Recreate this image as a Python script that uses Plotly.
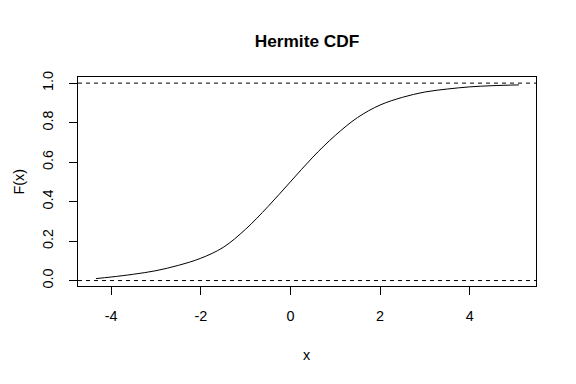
import plotly.graph_objects as go

x_vals = [-4.34, -4.0, -3.5, -3.0, -2.5, -2.0, -1.5, -1.0, -0.5, 0.0,
          0.5, 1.0, 1.5, 2.0, 2.5, 3.0, 3.5, 4.0, 4.5, 5.1]
cdf_vals = [0.010, 0.018, 0.032, 0.050, 0.077, 0.113, 0.168, 0.260, 0.375, 0.500,
            0.625, 0.735, 0.826, 0.889, 0.928, 0.955, 0.970, 0.981, 0.987, 0.991]
ref_levels = [0.0, 1.0]
x_ticks = [-4, -2, 0, 2, 4]
y_ticks = [0.0, 0.2, 0.4, 0.6, 0.8, 1.0]
y_tick_labels = ["0.0", "0.2", "0.4", "0.6", "0.8", "1.0"]

font = "Liberation Sans, Arial, Helvetica, sans-serif"
fs = 14.4

W, H = 568, 376
L, R, T, B = 70, 40, 69, 98
pw, ph = W - L - R, H - T - B

fig = go.Figure()
fig.add_trace(go.Scatter(x=x_vals, y=cdf_vals, mode="lines",
                         line=dict(color="black", width=1, shape="spline", smoothing=1.0),
                         showlegend=False, hoverinfo="skip"))

for lv in ref_levels:
    fig.add_shape(type="line", xref="paper", x0=0, x1=1, yref="y", y0=lv, y1=lv,
                  line=dict(color="black", width=1, dash="4px,4px"), layer="above")

fig.add_annotation(text="F(x)", xref="paper", yref="paper",
                   x=(10 - L) / pw, y=0.5, xanchor="center", yanchor="middle",
                   textangle=-90, showarrow=False, font=dict(size=fs, family=font))
fig.add_annotation(text="x", xref="paper", yref="paper",
                   x=0.5, y=-(347 - (T + ph)) / ph, xanchor="center", yanchor="middle",
                   showarrow=False, font=dict(size=fs, family=font))

fig.update_layout(
    width=W, height=H,
    margin=dict(l=L, r=R, t=T, b=B, autoexpand=False),
    paper_bgcolor="white", plot_bgcolor="white",
    font=dict(family=font, size=fs, color="black"),
    title=dict(text="<b>Hermite CDF</b>", x=0.5, xanchor="center", xref="paper",
               y=1 - 33 / H, yanchor="middle", font=dict(size=17.3, family=font)),
    showlegend=False,
)
fig.update_xaxes(range=[-4.74, 5.48], tickvals=x_ticks, ticktext=[str(t) for t in x_ticks],
                 showgrid=False, zeroline=False, showline=True, mirror=True,
                 linecolor="black", linewidth=1, ticks="outside", ticklen=8,
                 tickcolor="black", tickfont=dict(size=fs), ticklabelstandoff=9,
                 automargin=False)
fig.update_yaxes(range=[-0.0276, 1.031], tickvals=y_ticks, ticktext=y_tick_labels,
                 showgrid=False, zeroline=False, showline=True, mirror=True,
                 linecolor="black", linewidth=1, ticks="outside", ticklen=8,
                 tickcolor="black", tickangle=-90, tickfont=dict(size=fs),
                 ticklabelstandoff=10, automargin=False)

fig.write_html("out.html")
